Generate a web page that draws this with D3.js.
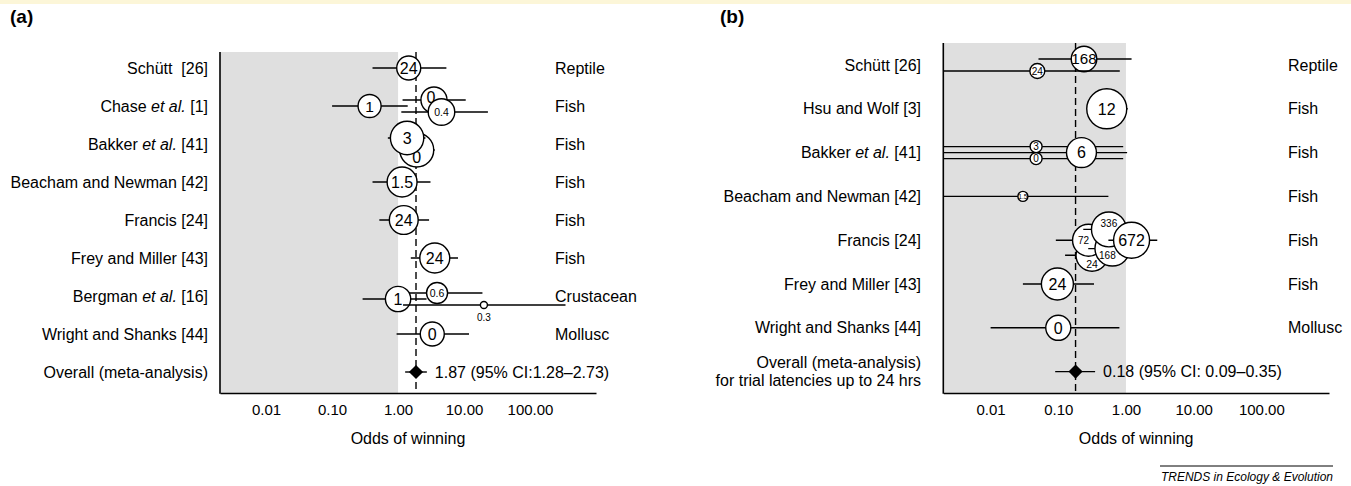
<!DOCTYPE html>
<html>
<head>
<meta charset="utf-8">
<title>Odds of winning</title>
<script src="https://d3js.org/d3.v7.min.js"></script>
<style>
  body { margin: 0; background: #fff; }
  text { font-family: 'Liberation Sans', Arial, Helvetica, sans-serif; fill: #000; }
</style>
</head>
<body>
<script>
// ---------- data ----------
var oddsTicks = [0.01, 0.1, 1, 10, 100];

// panel (a)
var studiesA = ["Schütt  [26]", "Chase et al. [1]", "Bakker et al. [41]", "Beacham and Newman [42]",
                "Francis [24]", "Frey and Miller [43]", "Bergman et al. [16]", "Wright and Shanks [44]",
                "Overall (meta-analysis)"];
var groupsA = ["Reptile", "Fish", "Fish", "Fish", "Fish", "Fish", "Crustacean", "Mollusc"];
// row, lane (sub-entry within study), odds ratio, lower, upper, weight, label
var pointsA = [
  {row: 0, lane: 0,    or: 1.45, lo: 0.41, hi: 5.4,  w: 9,    lab: "24"},
  {row: 1, lane: 0,    or: 0.37, lo: 0.10, hi: 1.4,  w: 8.3,  lab: "1"},
  {row: 1, lane: -1,   or: 3.5,  lo: 1.17, hi: 10.6, w: 10.6, lab: "0"},
  {row: 1, lane: 1,    or: 4.55, lo: 1.12, hi: 23,   w: 11,   lab: "0.4"},
  {row: 2, lane: 1,    or: 1.92, lo: 1.2,  hi: 3.6,  w: 18,   lab: "0"},
  {row: 2, lane: -1,   or: 1.37, lo: 0.70, hi: 2.6,  w: 17.4, lab: "3"},
  {row: 3, lane: 0,    or: 1.15, lo: 0.41, hi: 3.1,  w: 14,   lab: "1.5"},
  {row: 4, lane: 0,    or: 1.22, lo: 0.52, hi: 2.95, w: 13,   lab: "24"},
  {row: 5, lane: 0,    or: 3.6,  lo: 1.56, hi: 8.1,  w: 14,   lab: "24"},
  {row: 6, lane: -0.5, or: 3.9,  lo: 1.1,  hi: 19,   w: 6.9,  lab: "0.6"},
  {row: 6, lane: 0.5,  or: 1.0,  lo: 0.29, hi: 2.7,  w: 10,   lab: "1"},
  {row: 6, lane: 1.5,  or: 20,   lo: 1.19, hi: 345,  w: 0.77, lab: "0.3"},
  {row: 7, lane: 0,    or: 3.3,  lo: 0.95, hi: 11.9, w: 9,    lab: "0"}
];
var overallA = [1.87, 1.28, 2.73];
var overallTextA = "1.87 (95% CI:1.28–2.73)";

// panel (b)
var studiesB = ["Schütt [26]", "Hsu and Wolf [3]", "Bakker et al. [41]", "Beacham and Newman [42]",
                "Francis [24]", "Frey and Miller [43]", "Wright and Shanks [44]",
                "Overall (meta-analysis)\nfor trial latencies up to 24 hrs"];
var groupsB = ["Reptile", "Fish", "Fish", "Fish", "Fish", "Fish", "Mollusc"];
var pointsB = [
  {row: 0, lane: -1,   or: 0.24,  lo: 0.051, hi: 1.21, w: 10.2,  lab: "168"},
  {row: 0, lane: 1,    or: 0.049, lo: 0.001, hi: 0.81, w: 3.5,   lab: "24"},
  {row: 1, lane: 0,    or: 0.52,  lo: 0.27,  hi: 1.06, w: 25,    lab: "12"},
  {row: 2, lane: -1,   or: 0.047, lo: 0.001, hi: 0.91, w: 2.25,  lab: "3"},
  {row: 2, lane: 1,    or: 0.047, lo: 0.001, hi: 0.91, w: 2.25,  lab: "0"},
  {row: 2, lane: 0,    or: 0.22,  lo: 0.001, hi: 1.04, w: 14,    lab: "6"},
  {row: 3, lane: 0,    or: 0.030, lo: 0.001, hi: 0.55, w: 1.56,  lab: "1.5"},
  {row: 4, lane: 2.5,  or: 0.315, lo: 0.126, hi: 0.6,  w: 16,    lab: "24"},
  {row: 4, lane: 0,    or: 0.28,  lo: 0.092, hi: 0.55, w: 16,    lab: "72"},
  {row: 4, lane: 1.4,  or: 0.63,  lo: 0.277, hi: 1.25, w: 19,    lab: "168"},
  {row: 4, lane: -1.8, or: 0.56,  lo: 0.234, hi: 1.1,  w: 19,    lab: "336"},
  {row: 4, lane: 0,    or: 1.21,  lo: 0.55,  hi: 2.9,  w: 20.25, lab: "672"},
  {row: 5, lane: 0,    or: 0.097, lo: 0.030, hi: 0.337, w: 16,   lab: "24"},
  {row: 6, lane: 0,    or: 0.1,   lo: 0.01,  hi: 0.80, w: 9.8,   lab: "0"}
];
var overallB = [0.18, 0.09, 0.35];
var overallTextB = "0.18 (95% CI: 0.09–0.35)";

// ---------- drawing ----------
var svg = d3.select("body").append("svg")
    .attr("width", 1351)
    .attr("height", 486);

// thin pale strip at the very top
svg.append("rect").attr("x", 0).attr("y", 0).attr("width", 1351).attr("height", 4).attr("fill", "#fcf6d8");

var rScale = d3.scaleSqrt().domain([0, 100]).range([0, 40]);
var laneStep = 6;

// label nudges where circles overlap (layout only)
var labelTweak = {
  "a1-0": {dx: -3, dy: -3},
  "a1-0.4": {size: 10.5},
  "a2-0": {dy: 7},
  "a6-0.6": {size: 10.5},
  "b2-3": {size: 10},
  "b2-0": {size: 10},
  "b4-24": {dy: 9, size: 10.5},
  "b4-72": {dx: -5, size: 10},
  "b4-168": {dx: -5, dy: 7, size: 10},
  "b4-336": {dy: -6.5, size: 10}
};

function labelSize(r, lab) {
  var len = lab.length - (lab.indexOf(".") >= 0 ? 0.5 : 0);
  return Math.min(16, 1.35 * r, 2 * r / (0.56 * len));
}

function studyText(sel, s) {
  var parts = s.split("et al.");
  if (parts.length === 1) { sel.text(s); return; }
  sel.append("tspan").text(parts[0]);
  sel.append("tspan").style("font-style", "italic").text("et al.");
  sel.append("tspan").text(parts[1]);
}

function drawPanel(cfg) {
  var g = svg.append("g");

  var x = d3.scaleLog().domain([0.002, 1000]).range([cfg.x0, cfg.x1]).clamp(true);
  var y = d3.scaleLinear().domain([0, 1]).range([cfg.rowY0, cfg.rowY0 + cfg.rowStep]);

  // shaded region (odds < 1)
  g.append("rect")
    .attr("x", cfg.x0).attr("y", cfg.top)
    .attr("width", x(1) - cfg.x0).attr("height", cfg.bottom - cfg.top)
    .attr("fill", "#dfdfdf");

  // overall estimate dashed line
  g.append("line")
    .attr("x1", x(cfg.overall[0])).attr("x2", x(cfg.overall[0]))
    .attr("y1", cfg.top).attr("y2", cfg.bottom)
    .attr("stroke", "#000").attr("stroke-width", 1.4)
    .attr("stroke-dasharray", "7,4");

  // axes
  g.append("line")
    .attr("x1", cfg.x0).attr("x2", cfg.x0)
    .attr("y1", cfg.top).attr("y2", cfg.bottom + 0.75)
    .attr("stroke", "#000").attr("stroke-width", 1.6);

  var xAxis = g.append("g")
    .attr("transform", "translate(0," + cfg.bottom + ")")
    .call(d3.axisBottom(x).tickValues(oddsTicks).tickFormat(d3.format(".2f"))
      .tickSize(0).tickSizeOuter(0).tickPadding(11));
  xAxis.select(".domain").attr("stroke-width", 1.6);
  xAxis.selectAll("text")
    .style("font-family", "'Liberation Sans', Arial, sans-serif")
    .style("font-size", "15px").attr("fill", "#222");

  g.append("text")
    .attr("x", (cfg.x0 + cfg.x1) / 2).attr("y", cfg.bottom + 51)
    .attr("text-anchor", "middle").style("font-size", "16px")
    .text("Odds of winning");

  // study labels
  cfg.studies.forEach(function(s, i) {
    var lines = s.split("\n");
    lines.forEach(function(line, k) {
      var t = g.append("text")
        .attr("x", cfg.labelRight)
        .attr("y", y(i) + (k - (lines.length - 1) / 2) * 18)
        .attr("dy", "0.35em")
        .attr("text-anchor", "end")
        .style("white-space", "pre")
        .style("font-size", "16px");
      studyText(t, line);
    });
  });

  // taxon labels
  cfg.groups.forEach(function(s, i) {
    g.append("text")
      .attr("x", cfg.groupX).attr("y", y(i)).attr("dy", "0.35em")
      .style("font-size", "16px")
      .text(s);
  });

  // study points
  cfg.points.forEach(function(d) {
    var cy = y(d.row) + d.lane * laneStep;
    var r = rScale(d.w);
    var key = cfg.id + d.row + "-" + d.lab;
    var tw = labelTweak[key] || {};

    g.append("line")
      .attr("x1", x(d.lo)).attr("x2", x(d.hi))
      .attr("y1", cy).attr("y2", cy)
      .attr("stroke", "#000").attr("stroke-width", 1.4);

    g.append("circle")
      .attr("cx", x(d.or)).attr("cy", cy).attr("r", r)
      .attr("fill", "#fff").attr("stroke", "#000").attr("stroke-width", 1.4);

    if (r < 4.5) {
      g.append("text")
        .attr("x", x(d.or)).attr("y", cy + r + 9).attr("dy", "0.35em")
        .attr("text-anchor", "middle").style("font-size", "10px").attr("fill", "#333")
        .text(d.lab);
    } else {
      var fs = tw.size || labelSize(r, d.lab);
      g.append("text")
        .attr("x", x(d.or) + (tw.dx || 0)).attr("y", cy + (tw.dy || 0))
        .attr("dy", "0.36em").attr("text-anchor", "middle")
        .style("font-size", fs + "px")
        .attr("fill", fs < 12 ? "#333" : "#000")
        .text(d.lab);
    }
  });

  // overall estimate
  var oy = y(cfg.studies.length - 1);
  g.append("line")
    .attr("x1", x(cfg.overall[1])).attr("x2", x(cfg.overall[2]))
    .attr("y1", oy).attr("y2", oy)
    .attr("stroke", "#000").attr("stroke-width", 1.4);
  g.append("path")
    .attr("d", d3.symbol().type(d3.symbolSquare).size(100)())
    .attr("transform", "translate(" + x(cfg.overall[0]) + "," + oy + ") rotate(45)")
    .attr("fill", "#000");
  g.append("text")
    .attr("x", x(cfg.overall[2]) + 8).attr("y", oy).attr("dy", "0.35em")
    .style("font-size", "16px")
    .text(cfg.overallText);

  // panel tag
  g.append("text")
    .attr("x", cfg.tagX).attr("y", 23)
    .style("font-size", "19px").style("font-weight", "bold")
    .text(cfg.tag);
}

drawPanel({
  id: "a", tag: "(a)", tagX: 10,
  x0: 220, x1: 596, top: 52, bottom: 393,
  rowY0: 68, rowStep: 38,
  labelRight: 208, groupX: 555,
  studies: studiesA, groups: groupsA, points: pointsA,
  overall: overallA, overallText: overallTextA
});

drawPanel({
  id: "b", tag: "(b)", tagX: 720,
  x0: 943.3, x1: 1329, top: 43, bottom: 393,
  rowY0: 65, rowStep: 43.8,
  labelRight: 921, groupX: 1288,
  studies: studiesB, groups: groupsB, points: pointsB,
  overall: overallB, overallText: overallTextB
});

// journal footer
svg.append("line")
  .attr("x1", 1160).attr("x2", 1333).attr("y1", 466).attr("y2", 466)
  .attr("stroke", "#000").attr("stroke-width", 1);
svg.append("text")
  .attr("x", 1333).attr("y", 481)
  .attr("text-anchor", "end")
  .style("font-size", "12px").style("font-style", "italic")
  .text("TRENDS in Ecology & Evolution");
</script>
</body>
</html>
